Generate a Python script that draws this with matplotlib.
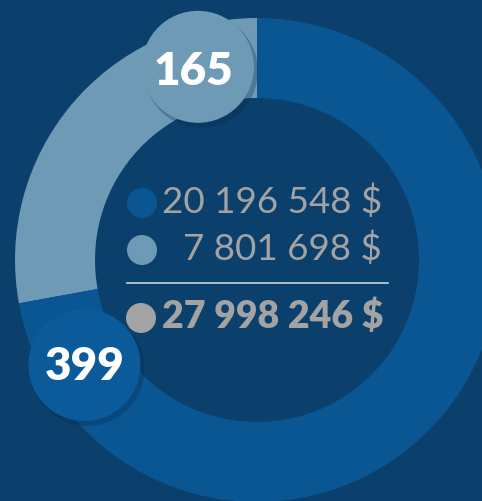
import matplotlib.pyplot as plt
from matplotlib.patches import Circle
import numpy as np

# data
amounts = [7801698, 20196548]          # light segment, dark segment
counts = ["165", "399"]
amount_labels = ["20 196 548 $", "7 801 698 $"]
total_label = "27 998 246 $"

bg = "#0b3f6c"
dark = "#0a5693"
dark_badge = "#0b5b9b"
light = "#6f9ab6"
grey = "#a3a3a3"

fig = plt.figure(figsize=(4.82, 5.01), dpi=100)
fig.patch.set_facecolor(bg)
ax = fig.add_axes([0, 0, 1, 1])
ax.set_facecolor(bg)

cx, cy = 257, 241
r_out, r_in = 242, 162

wedges, _ = ax.pie(amounts, colors=[light, dark], startangle=90, counterclock=True,
                   radius=r_out, center=(cx, cy),
                   wedgeprops=dict(width=r_out - r_in, linewidth=0))

# number badges, a bit past the start of each segment
r_mid = (r_out + r_in) / 2
badge_cols = [light, dark_badge]
offsets = [17, 21]
text_shift = [(-4, -5), (0, -2)]
for w, txt, col, off, sh in zip(wedges, counts, badge_cols, offsets, text_shift):
    ang = np.deg2rad(w.theta1 + off)
    bx, by = cx + r_mid * np.cos(ang), cy + r_mid * np.sin(ang)
    ax.add_patch(Circle((bx + 3, by - 4), 57, color="#062a4a", alpha=0.3, lw=0, zorder=3))
    ax.add_patch(Circle((bx, by), 56, color=col, lw=0, zorder=4))
    ax.text(bx + sh[0], by + sh[1], txt, color="white", fontsize=33, fontweight="heavy",
            family="Lato", ha="center", va="center", zorder=5)

# legend in the middle
ax.add_patch(Circle((142, 501 - 203), 15, color=dark, lw=0, zorder=4))
ax.add_patch(Circle((142, 501 - 250), 15, color=light, lw=0, zorder=4))
ax.add_patch(Circle((141, 501 - 318), 15, color=grey, lw=0, zorder=4))
ax.text(382, 501 - 202, amount_labels[0], color=grey, fontsize=26.5, family="Lato",
        ha="right", va="center", zorder=5)
ax.text(382, 501 - 249, amount_labels[1], color=grey, fontsize=26.5, family="Lato",
        ha="right", va="center", zorder=5)
ax.plot([127, 388], [501 - 283, 501 - 283], color="#c9d3dc", lw=1.2, zorder=5)
ax.text(383, 501 - 316, total_label, color=grey, fontsize=27, family="Lato",
        fontweight="heavy", ha="right", va="center", zorder=5)

ax.set_xlim(0, 482)
ax.set_ylim(0, 501)
ax.set_aspect("equal")
ax.axis("off")

fig.savefig("out.png", dpi=100, facecolor=bg)
